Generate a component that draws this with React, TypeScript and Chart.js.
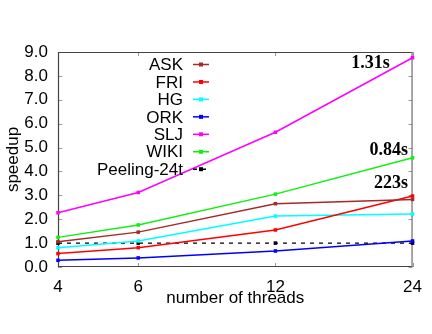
import React, { useEffect, useRef } from 'react';
import { Chart, registerables } from 'chart.js';

Chart.register(...registerables);

// ---- data ----
const threads = [4, 6, 12, 24];
const seriesNames = ['ASK', 'FRI', 'HG', 'ORK', 'SLJ', 'WIKI', 'Peeling-24t'];
const askValues = [1.06, 1.46, 2.65, 2.83];
const friValues = [0.56, 0.81, 1.55, 2.97];
const hgValues = [0.81, 1.09, 2.13, 2.22];
const orkValues = [0.28, 0.38, 0.67, 1.09];
const sljValues = [2.27, 3.12, 5.64, 8.76];
const wikiValues = [1.24, 1.76, 3.05, 4.57];
const peelingValues = [1.0, 1.0, 1.0, 1.0];
const yTickValues = [0, 1, 2, 3, 4, 5, 6, 7, 8, 9];
const timeLabels = ['1.31s', '0.84s', '223s'];
const timeLabelThreads = [21.4, 23.45, 23.45];
const timeLabelSpeedups = [8.54, 4.87, 3.5];

const seriesColors = ['#a52a2a', '#ff0000', '#00ffff', '#0000ff', '#ff00ff', '#10f010', '#000000'];
const allValues = [askValues, friValues, hgValues, orkValues, sljValues, wikiValues, peelingValues];

const SANS = '"Liberation Sans", Arial, sans-serif';
const SERIF = '"Liberation Serif", "Times New Roman", serif';

const framePlugin = {
  id: 'frame',
  beforeDatasetsDraw(chart: any) {
    const { ctx, chartArea: a, scales } = chart;
    const x = scales.x;
    const y = scales.y;
    ctx.save();
    ctx.lineWidth = 1;
    ctx.strokeStyle = '#999999';
    for (const v of yTickValues) {
      const py = Math.round(y.getPixelForValue(v)) + 0.5;
      ctx.beginPath();
      ctx.moveTo(a.left, py);
      ctx.lineTo(a.left + 4, py);
      ctx.moveTo(a.right, py);
      ctx.lineTo(a.right - 4, py);
      ctx.stroke();
    }
    for (const t of threads) {
      const px = Math.round(x.getPixelForValue(t)) + 0.5;
      ctx.beginPath();
      ctx.moveTo(px, a.top);
      ctx.lineTo(px, a.top + 4);
      ctx.moveTo(px, a.bottom);
      ctx.lineTo(px, a.bottom - 4);
      ctx.stroke();
    }
    ctx.strokeStyle = '#444444';
    ctx.lineWidth = 1.2;
    ctx.beginPath();
    ctx.moveTo(a.right, a.top + 0.5);
    ctx.lineTo(a.left + 0.5, a.top + 0.5);
    ctx.lineTo(a.left + 0.5, a.bottom - 0.5);
    ctx.lineTo(a.right, a.bottom - 0.5);
    ctx.stroke();
    ctx.strokeStyle = '#8a8a8a';
    ctx.lineWidth = 1.5;
    ctx.beginPath();
    ctx.moveTo(a.right - 0.5, a.top);
    ctx.lineTo(a.right - 0.5, a.bottom);
    ctx.stroke();
    ctx.restore();
  },
  afterDraw(chart: any) {
    const { ctx, scales } = chart;
    const x = scales.x;
    const y = scales.y;
    ctx.save();
    ctx.font = '17px ' + SANS;
    ctx.textAlign = 'right';
    ctx.textBaseline = 'middle';
    chart.data.datasets.forEach((ds: any, i: number) => {
      const cy = 64.5 + i * 17.45;
      ctx.fillStyle = '#000000';
      ctx.fillText(ds.label, 183, cy + 1);
      ctx.strokeStyle = ds.borderColor;
      ctx.lineWidth = 1.5;
      ctx.setLineDash(ds.borderDash || []);
      ctx.beginPath();
      ctx.moveTo(193, cy);
      ctx.lineTo(209, cy);
      ctx.stroke();
      ctx.setLineDash([]);
      ctx.fillStyle = ds.borderColor;
      ctx.fillRect(199, cy - 2, 4, 4);
    });
    ctx.font = 'bold 18px ' + SERIF;
    ctx.fillStyle = '#000000';
    timeLabels.forEach((t, i) => {
      ctx.fillText(t, x.getPixelForValue(timeLabelThreads[i]), y.getPixelForValue(timeLabelSpeedups[i]));
    });
    ctx.restore();
  },
};

export default function App() {
  const ref = useRef<HTMLCanvasElement | null>(null);
  useEffect(() => {
    if (!ref.current) return;
    const chart = new Chart(ref.current, {
      type: 'line',
      data: {
        datasets: seriesNames.map((name, i) => ({
          label: name,
          data: threads.map((t, j) => ({ x: t, y: allValues[i][j] })),
          borderColor: seriesColors[i],
          backgroundColor: seriesColors[i],
          borderWidth: i === 6 ? 1.2 : 1.5,
          borderDash: i === 6 ? [4, 5] : [],
          pointStyle: 'rect',
          pointRadius: 2.5,
          pointBorderWidth: 0,
          tension: 0,
          clip: false,
        })),
      },
      options: {
        animation: false,
        responsive: false,
        maintainAspectRatio: false,
        layout: { padding: { top: 52, right: 16, left: 0, bottom: 0 } },
        plugins: { legend: { display: false }, tooltip: { enabled: false } },
        scales: {
          x: {
            type: 'logarithmic',
            min: 4,
            max: 24,
            afterBuildTicks: (s: any) => {
              s.ticks = threads.map((v) => ({ value: v }));
            },
            afterFit: (s: any) => {
              s.height = 67;
            },
            grid: { display: false, drawTicks: false },
            border: { display: false },
            ticks: {
              color: '#000000',
              font: { family: SANS, size: 17 },
              padding: 10,
              maxRotation: 0,
              autoSkip: false,
              callback: (v: any) => String(v),
            },
            title: {
              display: true,
              text: 'number of threads',
              color: '#000000',
              font: { family: SANS, size: 17 },
              padding: { top: 0, bottom: 25 },
            },
          },
          y: {
            min: 0,
            max: 9,
            afterBuildTicks: (s: any) => {
              s.ticks = yTickValues.map((v) => ({ value: v }));
            },
            afterFit: (s: any) => {
              s.width = 58;
            },
            grid: { display: false, drawTicks: false },
            border: { display: false },
            ticks: {
              color: '#000000',
              font: { family: SANS, size: 17 },
              padding: 10,
              callback: (v: any) => Number(v).toFixed(1),
            },
            title: {
              display: true,
              text: 'speedup',
              color: '#000000',
              font: { family: SANS, size: 17 },
              padding: { top: 3, bottom: 0 },
            },
          },
        },
      },
      plugins: [framePlugin],
    });
    return () => chart.destroy();
  }, []);
  return (
    <div style={{ position: 'absolute', left: 0, top: 0, width: 432, height: 334, background: '#ffffff' }}>
      <canvas ref={ref} width={432} height={334} style={{ display: 'block', width: 432, height: 334 }} />
    </div>
  );
}
